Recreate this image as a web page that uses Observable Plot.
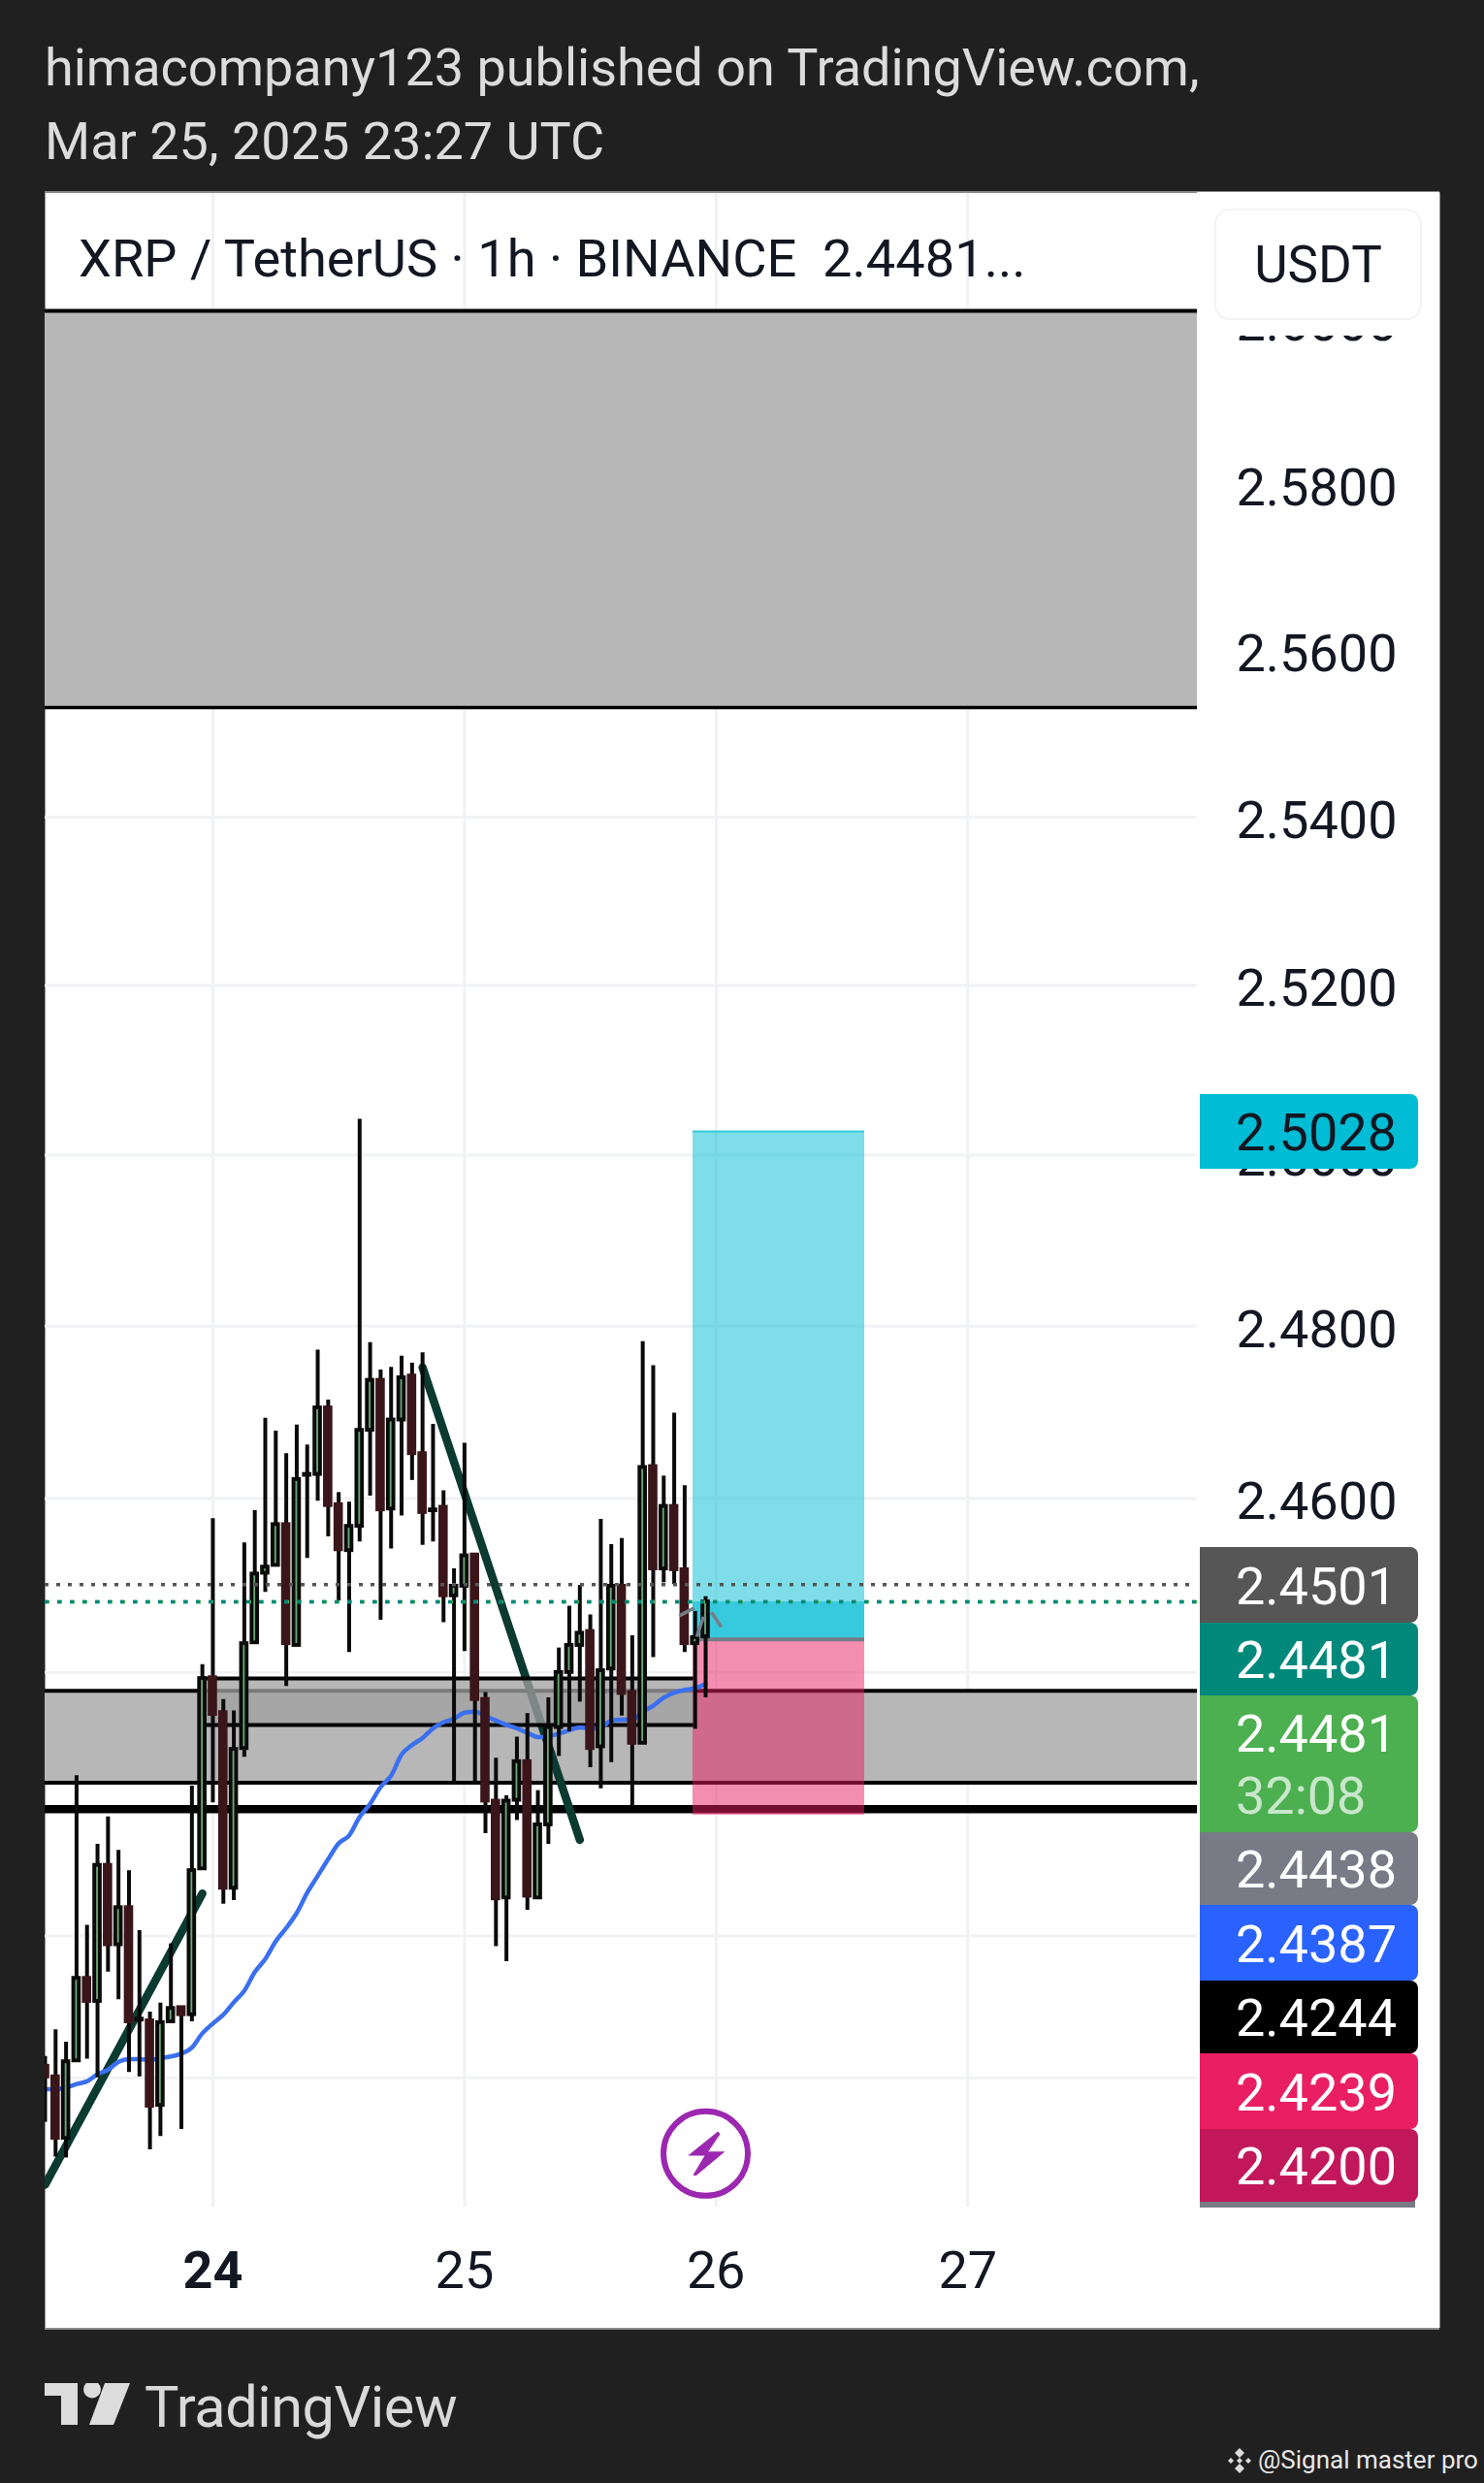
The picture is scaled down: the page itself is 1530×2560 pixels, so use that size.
<!DOCTYPE html>
<html><head><meta charset="utf-8">
<script src="https://cdn.jsdelivr.net/npm/d3@7"></script>
<script src="https://cdn.jsdelivr.net/npm/@observablehq/plot@0.6"></script>
<style>
html,body{margin:0;padding:0;background:#202020;}
#page{position:relative;width:1530px;height:2560px;overflow:hidden;background:#202020;font-family:Roboto,sans-serif;}
#chart{position:absolute;left:0;top:198px;}
#chart svg{display:block;background:transparent;}
.head{position:absolute;left:46px;color:#dcdcdc;font-size:54px;line-height:1;white-space:nowrap;}
#strip{position:absolute;left:1234px;top:198px;width:250px;height:148px;background:#fff;}
#usdt{position:absolute;left:18px;top:17px;width:214px;height:115px;box-sizing:border-box;border:2px solid #f3f3f5;border-radius:16px;color:#131722;font-size:53px;text-align:center;line-height:113px;}
#sym{position:absolute;left:81px;top:240px;font-size:54.2px;line-height:1;color:#131722;white-space:pre;}
.tag{position:absolute;left:1237px;width:225px;box-sizing:border-box;padding-left:37px;padding-top:3px;border-radius:0 8px 8px 0;color:#fff;font-size:54px;display:flex;flex-direction:column;justify-content:center;line-height:64px;}
.tag span{color:rgba(255,255,255,.7);}
#brand{position:absolute;left:149px;top:2453px;font-size:59.5px;line-height:1;color:#d9d9d9;letter-spacing:-.5px;}
#logo{position:absolute;left:46px;top:2457px;}
#mark{position:absolute;left:1297px;top:2523px;font-size:26px;line-height:1;color:#e8e8e8;white-space:nowrap;}
#micon{position:absolute;left:1265px;top:2524px;}
#edge1,#edge2{position:absolute;left:46px;width:1438px;height:2px;background:#8a8a8a;}
</style></head>
<body><div id="page">
<div class="head" style="top:43px">himacompany123 published on TradingView.com,</div>
<div class="head" style="top:119px">Mar 25, 2025 23:27 UTC</div>
<div id="chart"></div>
<div id="edge1" style="top:197px"></div><div id="edge2" style="top:2400px"></div>
<div id="strip"><div id="usdt">USDT</div></div>
<div id="sym">XRP / TetherUS · 1h · BINANCE  2.4481...</div>
<div id="tags"></div>
<svg id="logo" width="90" height="44" viewBox="0 0 90 44"><path fill="#dcdcdc" d="M0 0H34V43H17V13H0Z"/><circle cx="49" cy="6.5" r="9" fill="#dcdcdc"/><path fill="#dcdcdc" d="M62 0H88L71 43H46Z"/></svg>
<div id="brand">TradingView</div>
<svg id="micon" width="26" height="26" viewBox="0 0 26 26"><g fill="#dcdcdc"><path d="M13 0L18 5L13 10L8 5Z"/><path d="M13 16L18 21L13 26L8 21Z"/><path d="M4 10L7 13L4 16L1 13Z"/><path d="M22 10L25 13L22 16L19 13Z"/><path d="M13 10L16 13L13 16L10 13Z"/></g></svg>
<div id="mark">@Signal master pro</div>
</div>
<script>
// ---------- data (hours from 24 Mar 00:00 UTC; prices in USDT) ----------
const hours = d3.range(-16, 48);
const opens = [2.3953,2.3941,2.3872,2.3959,2.4052,2.4026,2.4180,2.4090,2.4132,2.4005,2.4004,2.3909,2.4003,2.4019,2.4011,2.4176,
 2.4394,2.4354,2.4154,2.4313,2.4434,2.4514,2.4523,2.4570,2.4431,2.4627,2.4628,2.4705,2.4593,2.4540,2.4568,2.4679,
 2.4737,2.4588,2.4691,2.4742,2.4652,2.4586,2.4590,2.4488,2.4499,2.4535,2.4369,2.4253,2.4143,2.4254,2.4298,2.4143,
 2.4226,2.4337,2.4400,2.4431,2.4447,2.4315,2.4404,2.4499,2.4377,2.4319,2.4637,2.4519,2.4591,2.4518,2.4433,2.4441];
const closes = [2.3941,2.3872,2.3958,2.4052,2.4026,2.4180,2.4090,2.4132,2.4003,2.4006,2.3908,2.4002,2.4018,2.4011,2.4174,2.4393,
 2.4352,2.4154,2.4312,2.4433,2.4513,2.4521,2.4570,2.4433,2.4622,2.4628,2.4705,2.4592,2.4541,2.4568,2.4679,2.4737,
 2.4587,2.4691,2.4740,2.4652,2.4584,2.4587,2.4488,2.4499,2.4534,2.4369,2.4253,2.4142,2.4253,2.4298,2.4145,2.4226,
 2.4337,2.4400,2.4431,2.4445,2.4313,2.4402,2.4499,2.4376,2.4319,2.4636,2.4519,2.4591,2.4518,2.4433,2.4440,2.4481];
const highs = [2.3964,2.3994,2.3980,2.4282,2.4112,2.4204,2.4235,2.4197,2.4174,2.4106,2.4014,2.4024,2.4091,2.4020,2.4270,2.4409,
 2.4577,2.4369,2.4356,2.4549,2.4586,2.4693,2.4678,2.4652,2.4685,2.4662,2.4772,2.4714,2.4607,2.4596,2.5042,2.4781,
 2.4749,2.4752,2.4765,2.4757,2.4769,2.4686,2.4609,2.4519,2.4664,2.4535,2.4377,2.4302,2.4259,2.4326,2.4353,2.4265,
 2.4371,2.4428,2.4476,2.4500,2.4466,2.4576,2.4547,2.4554,2.4442,2.4782,2.4754,2.4626,2.4699,2.4615,2.4470,2.4487];
const lows = [2.3890,2.3851,2.3850,2.3959,2.3961,2.3940,2.4059,2.4028,2.3946,2.3941,2.3859,2.3874,2.4003,2.3882,2.4003,2.4176,
 2.4251,2.4136,2.4140,2.4303,2.4434,2.4492,2.4523,2.4384,2.4431,2.4531,2.4597,2.4556,2.4482,2.4423,2.4550,2.4603,
 2.4460,2.4542,2.4580,2.4621,2.4546,2.4550,2.4457,2.4273,2.4424,2.4273,2.4216,2.4088,2.4071,2.4231,2.4129,2.4142,
 2.4204,2.4304,2.4332,2.4366,2.4291,2.4267,2.4297,2.4350,2.4247,2.4319,2.4417,2.4503,2.4501,2.4423,2.4335,2.4371];
const maValues = [2.3927,2.3927,2.3929,2.3933,2.3936,2.3944,2.3949,2.3958,2.3961,2.3961,2.3960,2.3962,2.3964,2.3967,2.3974,2.3990,
 2.4001,2.4011,2.4025,2.4038,2.4059,2.4074,2.4094,2.4109,2.4126,2.4149,2.4168,2.4187,2.4205,2.4214,2.4235,2.4250,
 2.4269,2.4282,2.4306,2.4317,2.4325,2.4336,2.4343,2.4347,2.4354,2.4355,2.4350,2.4345,2.4340,2.4336,2.4331,2.4326,
 2.4327,2.4330,2.4334,2.4337,2.4336,2.4337,2.4345,2.4346,2.4346,2.4355,2.4362,2.4371,2.4377,2.4380,2.4382,2.4387];

const priceTicks = [2.60,2.58,2.56,2.54,2.52,2.50,2.48,2.46];
const extraGrid = [2.44,2.41,2.394];
const dayTicks = [0,24,48,72];
const dayLabels = {0:"24",24:"25",48:"26",72:"27"};

const zoneUpper = {top:2.6011,bottom:2.5531};
const zoneLower = {top:2.4379,bottom:2.4274};
const boxInner = {top:2.4393,bottom:2.4340,from:-1,to:46};
const supportPrice = 2.4244;
const trendUp = [{h:-16,p:2.3820},{h:-1,p:2.4148}];
const trendDown = [{h:20,p:2.4752},{h:35,p:2.4209}];
const position = {from:45.79,to:62.17,target:2.5028,entry:2.4438,stop:2.4239};
const lastPrice = 2.4481, prevClose = 2.4501;
const arrowSegments = [
 {h1:44.5,p1:2.4465,h2:45.9,p2:2.4474},
 {h1:46.16,p1:2.4441,h2:46.8,p2:2.4464},
 {h1:47.55,p1:2.4469,h2:48.5,p2:2.4452}];
const bolt = [{h:47,p:2.3855}];

const tagTexts = ["2.4501","2.4481","2.4481","2.4438","2.4387","2.4244","2.4239","2.4200"];
const tagColors = ["#565656","#00897b","#4caf50","#787b86","#2962ff","#000000","#e91e63","#c2185b"];
const tagTops = [1595,1673,1748,1889,1964,2042,2117,2195];
const tagHeights = [78,75,141,75,78,75,78,75];
const countdown = "32:08";

// ---------- chart ----------
const candles = hours.map((h,i)=>({h,open:opens[i],close:closes[i],high:highs[i],low:lows[i],ma:maValues[i]}));
const up = candles.filter(d=>d.close>=d.open), down = candles.filter(d=>d.close<d.open);
const xL=-16, xR=93.9;
const body = {x1:d=>d.h-.265,x2:d=>d.h+.265,y1:"open",y2:"close",strokeWidth:3.9,clip:true};
const boltSymbol = {draw(c){c.moveTo(12.7,-22.7);c.lineTo(-18.3,2.3);c.lineTo(-1,2.3);c.lineTo(-13,22.3);c.lineTo(-10,23);c.lineTo(20,-2);c.lineTo(2.7,-2);c.lineTo(15,-20);c.closePath();}};

const dayAxisBase = {anchor:"bottom",tickSize:0,tickPadding:0,dy:-80,fontSize:54,fill:"#131722",label:null,tickFormat:d=>dayLabels[d]};

const plot = Plot.plot({
  width:1530,height:2202,marginLeft:46,marginRight:46,marginTop:0,marginBottom:0,
  style:{fontFamily:"Roboto,sans-serif",background:"transparent"},
  x:{type:"linear",domain:[xL,xR],range:[46,1234],axis:null},
  y:{type:"log",domain:[2.6156,2.3660],range:[0,2202],axis:null},
  marks:[
    Plot.frame({fill:"#fff",stroke:"none"}),
    Plot.ruleX(dayTicks,{y1:2.6156,y2:2.3795,stroke:"#f0f2f5",strokeWidth:3}),
    Plot.ruleY(priceTicks.concat(extraGrid),{x1:xL,x2:xR,stroke:"#f0f2f5",strokeWidth:3}),
    // zones
    Plot.rect([zoneUpper,zoneLower],{x1:xL,x2:xR,y1:"top",y2:"bottom",fill:"#b7b7b7",fillOpacity:1}),
    Plot.ruleY([zoneUpper.top,zoneLower.top,zoneLower.bottom],{x1:xL,x2:xR,stroke:"#000",strokeWidth:4}),
    Plot.ruleY([zoneUpper.bottom],{x1:xL,x2:xR,stroke:"#000",strokeWidth:3.5}),
    Plot.ruleY([supportPrice],{x1:xL,x2:xR,stroke:"#000",strokeWidth:8.5}),
    // trend lines
    Plot.line(trendUp,{x:"h",y:"p",stroke:"#0b3a30",strokeWidth:8.5,strokeLinecap:"round",clip:true}),
    Plot.line(trendDown,{x:"h",y:"p",stroke:"#0b3a30",strokeWidth:8.5,strokeLinecap:"round"}),
    // inner box
    Plot.rect([boxInner],{x1:"from",x2:"to",y1:"top",y2:"bottom",fill:"#a1a1a1",fillOpacity:.764}),
    Plot.ruleY([boxInner.top,boxInner.bottom],{x1:boxInner.from,x2:boxInner.to,stroke:"#000",strokeWidth:4}),
    // long position
    Plot.rect([position],{x1:"from",x2:"to",y1:"target",y2:"entry",fill:"#00bcd4",fillOpacity:.5}),
    Plot.rect([position],{x1:"from",x2:"to",y1:lastPrice,y2:"entry",fill:"#00bcd4",fillOpacity:.57}),
    Plot.rect([position],{x1:"from",x2:"to",y1:"entry",y2:"stop",fill:"#e91e63",fillOpacity:.5}),
    Plot.ruleY([position.target],{x1:position.from,x2:position.to,stroke:"#00bcd4",strokeWidth:2,strokeOpacity:.6}),
    Plot.ruleY([position.stop],{x1:position.from,x2:position.to,stroke:"#e91e63",strokeWidth:2,strokeOpacity:.6}),
    Plot.ruleY([position.entry],{x1:46,x2:position.to,stroke:"#787b86",strokeWidth:4}),
    // moving average
    Plot.line(candles,{x:"h",y:"ma",stroke:"#3a6ff0",strokeWidth:4.5,clip:true,curve:"monotone-x"}),
    // candles
    Plot.ruleX(candles,{x:"h",y1:"low",y2:"high",stroke:"#0a0a0a",strokeWidth:4,clip:true}),
    Plot.rect(up,{...body,fill:"#6aa875",stroke:"#0a0a0a"}),
    Plot.rect(down,{...body,fill:"#3a1519",stroke:"#3a1519"}),
    // price lines
    Plot.ruleY([prevClose],{x1:xL,x2:xR,stroke:"#555",strokeWidth:3.5,strokeDasharray:"4,8"}),
    Plot.ruleY([lastPrice],{x1:xL,x2:xR,stroke:"#4caf50",strokeWidth:3.5,strokeDasharray:"5,8"}),
    Plot.ruleY([lastPrice],{x1:xL,x2:xR,stroke:"#00897b",strokeWidth:3.5,strokeDasharray:"4,9"}),
    Plot.link(arrowSegments,{x1:"h1",y1:"p1",x2:"h2",y2:"p2",stroke:"#787b86",strokeWidth:3.5}),
    // event marker
    Plot.dot(bolt,{x:"h",y:"p",r:43.5,fill:"#fff",stroke:"#9c27b0",strokeWidth:6}),
    Plot.dot(bolt,{x:"h",y:"p",symbol:boltSymbol,fill:"#9c27b0",stroke:"none"}),
    // axes
    Plot.axisY(priceTicks,{anchor:"right",tickSize:0,tickPadding:0,dx:-210,dy:4,fontSize:54,fill:"#131722",label:null,tickFormat:d=>d.toFixed(4)}),
    Plot.axisX([0],{...dayAxisBase,fontWeight:"bold"}),
    Plot.axisX(dayTicks.slice(1),dayAxisBase)
  ]
});
document.getElementById("chart").append(plot);

// ---------- price tags on the right ----------
const tagsEl = document.getElementById("tags");
function addTag(text,color,top,h,sub,dark){
  const el=document.createElement("div");el.className="tag";
  el.style.cssText=`top:${top}px;height:${h}px;background:${color};`+(dark?"color:#131722;":"");
  el.textContent=text;
  if(sub){const s=document.createElement("span");s.textContent=sub;el.append(s);}
  tagsEl.append(el);
}
addTag(position.target.toFixed(4),"#00bcd4",1128,77,null,true);
const sliver=document.createElement("div");sliver.style.cssText="position:absolute;left:1237px;top:2268px;width:222px;height:8px;background:#787b86;";tagsEl.append(sliver);
tagTexts.forEach((t,i)=>addTag(t,tagColors[i],tagTops[i],tagHeights[i],i===2?countdown:null));
</script>
</body></html>
